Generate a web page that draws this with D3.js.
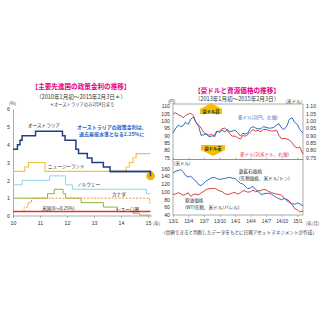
<!DOCTYPE html>
<html>
<head>
<meta charset="utf-8">
<script src="https://cdn.jsdelivr.net/npm/d3@7"></script>
<style>
  body { margin: 0; background: #fff; }
  svg { display: block; font-family: "Noto Sans CJK JP", "Noto Sans", sans-serif; }
</style>
</head>
<body>
<div id="chart"></div>
<script>
// left panel: policy rates (step changes)
const ausDates = ['2010-01-01','2010-03-02','2010-04-06','2010-05-04','2010-11-02','2011-11-01','2011-12-06','2012-05-01','2012-06-05','2012-10-02','2012-12-04','2013-05-07','2013-08-06','2015-02-03'];
const ausRates = [3.75, 4, 4.25, 4.5, 4.75, 4.5, 4.25, 3.75, 3.5, 3.25, 3, 2.75, 2.5, 2.25];
const nzDates = ['2010-01-01','2010-06-10','2010-07-29','2011-03-10','2014-03-13','2014-04-24','2014-06-12','2014-07-24'];
const nzRates = [2.5, 2.75, 3, 2.5, 2.75, 3, 3.25, 3.5];
const norDates = ['2010-01-01','2010-05-05','2011-05-12','2011-12-14','2012-03-14','2014-12-11'];
const norRates = [1.75, 2, 2.25, 1.75, 1.5, 1.25];
const canDates = ['2010-01-01','2010-06-01','2010-07-20','2010-09-08','2015-01-21'];
const canRates = [0.25, 0.5, 0.75, 1, 0.75];
const euDates = ['2010-01-01','2011-04-13','2011-07-13','2011-11-09','2011-12-14','2012-07-11','2013-05-08','2013-11-13','2014-06-11','2014-09-10'];
const euRates = [1, 1.25, 1.5, 1.25, 1, 0.75, 0.5, 0.25, 0.15, 0.05];
const usDates = ['2010-01-01'];
const usRates = [0.25];
const leftEnd = '2015-02-04';
const yearTicks = ['2010-01-01','2011-01-01','2012-01-01','2013-01-01','2014-01-01','2015-01-01'];
const yearLabels = ['10','11','12','13','14','15'];

// right panel: semi-monthly readings
const rDates = ['2013-01-01','2013-01-15','2013-02-01','2013-02-15','2013-03-01','2013-03-15','2013-04-01','2013-04-15','2013-05-01','2013-05-15','2013-06-01','2013-06-15','2013-07-01','2013-07-15','2013-08-01','2013-08-15','2013-09-01','2013-09-15','2013-10-01','2013-10-15','2013-11-01','2013-11-15','2013-12-01','2013-12-15',
  '2014-01-01','2014-01-15','2014-02-01','2014-02-15','2014-03-01','2014-03-15','2014-04-01','2014-04-15','2014-05-01','2014-05-15','2014-06-01','2014-06-15','2014-07-01','2014-07-15','2014-08-01','2014-08-15','2014-09-01','2014-09-15','2014-10-01','2014-10-15','2014-11-01','2014-11-15','2014-12-01','2014-12-15',
  '2015-01-01','2015-01-15','2015-02-03'];
const audJpy = [91.5,94.5,97,96,96.5,99,97.5,101,102.5,99,96,90,90.5,91,89,89.5,90,93,92,93.5,92.5,94,92.5,93,
  93.5,92,89.5,91.5,91,91.5,95,96,95,94.5,94.5,96,95.5,95,95,95.5,97,98,95,94,96.5,101,102,99,
  97.5,94,91.5];
const audUsd = [1.045,1.055,1.04,1.035,1.02,1.035,1.045,1.05,1.035,0.99,0.97,0.95,0.92,0.91,0.9,0.91,0.89,0.925,0.93,0.945,0.95,0.935,0.91,0.895,
  0.895,0.885,0.875,0.9,0.895,0.905,0.925,0.94,0.93,0.935,0.925,0.94,0.94,0.935,0.93,0.93,0.935,0.9,0.875,0.88,0.875,0.87,0.85,0.825,
  0.815,0.82,0.775];
const ironOre = [148,153,155,157,152,142,138,140,133,128,118,116,122,128,132,136,137,134,132,133,134,136,137,135,
  134,128,122,120,114,108,110,114,106,101,93,94,96,96,94,90,85,82,79,83,77,72,69,68,
  71,69,64];
const wti = [93,94,97.5,95,91,93,97,88,93,94,92,97,101,106,108,108,109,106,102,101,95,93,94,97,
  98,94,97,102,102,99,100,104,100,102,103,106,105,101,98,96,94,93,91,83,80,76,67,57,
  53,48,50];
const qTicks = ['2013-01-01','2013-04-01','2013-07-01','2013-10-01','2014-01-01','2014-04-01','2014-07-01','2014-10-01','2015-01-01'];
const qLabels = ['13/1','13/4','13/7','13/10','14/1','14/4','14/7','14/10','15/1'];
const yenTicks = [75, 80, 85, 90, 95, 100, 105, 110];
const usdTicks = [0.75, 0.8, 0.85, 0.9, 0.95, 1.0, 1.05, 1.1];
const priceTicks = [40, 60, 80, 100, 120, 140, 160];

const parse = d3.timeParse('%Y-%m-%d');
const W = 320, H = 320;
const svg = d3.select('#chart').append('svg').attr('width', W).attr('height', H);

const magenta = '#e4007f';
const axisColor = '#888';
const fs = 5.2;

function styleAxis(g) {
  g.select('.domain').attr('stroke', axisColor).attr('stroke-width', 0.7);
  g.selectAll('.tick line').attr('stroke', axisColor).attr('stroke-width', 0.6);
  g.selectAll('.tick text').attr('fill', '#333').style('font-size', fs + 'px');
}

// ---------- left panel ----------
svg.append('text').attr('x', 81).attr('y', 89).attr('text-anchor', 'middle')
  .attr('fill', magenta).style('font-size', '6.6px').style('font-weight', 'bold')
  .text('【主要先進国の政策金利の推移】');
svg.append('text').attr('x', 81).attr('y', 98.5).attr('text-anchor', 'middle')
  .attr('fill', '#333').style('font-size', '5.6px')
  .text('（2010年1月初～2015年2月3日＊）');
svg.append('text').attr('x', 82).attr('y', 106).attr('text-anchor', 'middle')
  .attr('fill', '#333').style('font-size', '4.3px')
  .text('＊オーストラリアのみ2月4日まで');

const xL = d3.scaleTime().domain([parse('2010-01-01'), parse('2015-01-01')]).range([13, 148]);
const yL = d3.scaleLinear().domain([0, 6]).range([216, 109]);

svg.append('g').attr('transform', 'translate(13,0)')
  .call(d3.axisLeft(yL).ticks(6).tickSize(0).tickPadding(3))
  .call(styleAxis);
svg.append('g').attr('transform', 'translate(0,216)')
  .call(d3.axisBottom(xL).tickValues(yearTicks.map(parse)).tickFormat((d, i) => yearLabels[i]).tickSize(2).tickPadding(3))
  .call(g => g.select('.domain').attr('d', `M13,0H152`))
  .call(styleAxis);
svg.append('text').attr('x', 9).attr('y', 105).attr('fill', '#333').style('font-size', '4.5px').text('(%)');
svg.append('text').attr('x', 153).attr('y', 225).attr('fill', '#333').style('font-size', '4.3px').text('(年)');

const stepLine = d3.line().x(d => xL(d[0])).y(d => yL(d[1])).curve(d3.curveStepAfter);
function stepData(dates, rates, end) {
  const pts = dates.map((d, i) => [parse(d), rates[i]]);
  pts.push([parse(end), rates[rates.length - 1]]);
  return pts;
}

const leftSeries = [
  { dates: euDates, rates: euRates, color: '#8db53c', w: 1 },
  { dates: canDates, rates: canRates, color: '#f0903a', w: 1, dash: '2,1.5' },
  { dates: norDates, rates: norRates, color: '#8fd3e6', w: 1 },
  { dates: nzDates, rates: nzRates, color: '#f0c43c', w: 1.1 },
  { dates: usDates, rates: usRates, color: '#e8302e', w: 1.6 },
  { dates: ausDates, rates: ausRates, color: '#223f83', w: 1.5 },
];
leftSeries.forEach(s => {
  svg.append('path').datum(stepData(s.dates, s.rates, leftEnd))
    .attr('d', stepLine).attr('fill', 'none')
    .attr('stroke', s.color).attr('stroke-width', s.w)
    .attr('stroke-dasharray', s.dash || null);
});

svg.append('circle').attr('cx', xL(parse(leftEnd))).attr('cy', yL(2.25)).attr('r', 4.3)
  .attr('fill', '#f5b400');
svg.append('path').datum(stepData(['2013-08-06', '2015-02-03'], [2.5, 2.25], leftEnd))
  .attr('d', stepLine).attr('fill', 'none').attr('stroke', '#223f83').attr('stroke-width', 1.5);

const leftLabels = [
  { t: 'オーストラリア', x: 28, y: 127, c: '#222' },
  { t: 'ニュージーランド', x: 48, y: 168, c: '#222' },
  { t: 'ノルウェー', x: 77, y: 186, c: '#222' },
  { t: 'カナダ', x: 112, y: 196, c: '#222' },
  { t: '米国(0～0.25%)', x: 42, y: 209.5, c: '#222' },
  { t: '←ユーロ圏', x: 116, y: 211, c: '#222' },
];
leftLabels.forEach(l => {
  svg.append('text').attr('x', l.x).attr('y', l.y).attr('fill', l.c)
    .style('font-size', '4.6px').text(l.t);
});
svg.append('text').attr('x', 77).attr('y', 129).attr('fill', '#1f62c4')
  .style('font-size', '5px').style('font-weight', 'bold').text('オーストラリアの政策金利は、');
svg.append('text').attr('x', 79).attr('y', 135.5).attr('fill', '#1f62c4')
  .style('font-size', '5px').style('font-weight', 'bold').text('過去最低水準となる2.25%に');

// ---------- right panel ----------
svg.append('text').attr('x', 237).attr('y', 93).attr('text-anchor', 'middle')
  .attr('fill', magenta).style('font-size', '6.6px').style('font-weight', 'bold')
  .text('【豪ドルと資源価格の推移】');
svg.append('text').attr('x', 237).attr('y', 100.5).attr('text-anchor', 'middle')
  .attr('fill', '#333').style('font-size', '5.6px')
  .text('（2013年1月初～2015年2月3日）');

const x0 = 173, x1 = 303;
const xR = d3.scaleTime().domain([parse('2013-01-01'), parse('2015-02-03')]).range([x0, x1]);
const yYen = d3.scaleLinear().domain([75, 110]).range([157.5, 106]);
const yUsd = d3.scaleLinear().domain([0.75, 1.1]).range([157.5, 106]);
const yPx = d3.scaleLinear().domain([40, 160]).range([215, 168.5]);
const dates = rDates.map(parse);

// frames
svg.append('rect').attr('x', x0).attr('y', 104).attr('width', x1 - x0).attr('height', 55.5)
  .attr('fill', 'none').attr('stroke', axisColor).attr('stroke-width', 0.7);
svg.append('rect').attr('x', x0).attr('y', 159.5).attr('width', x1 - x0).attr('height', 55.5)
  .attr('fill', 'none').attr('stroke', axisColor).attr('stroke-width', 0.7);

svg.append('g').attr('transform', `translate(${x0},0)`)
  .call(d3.axisLeft(yYen).tickValues(yenTicks).tickSize(0).tickPadding(3))
  .call(g => g.select('.domain').remove())
  .call(styleAxis);
svg.append('g').attr('transform', `translate(${x1},0)`)
  .call(d3.axisRight(yUsd).tickValues(usdTicks).tickFormat(d3.format('.2f')).tickSize(0).tickPadding(3))
  .call(g => g.select('.domain').remove())
  .call(styleAxis);
svg.append('g').attr('transform', `translate(${x0},0)`)
  .call(d3.axisLeft(yPx).tickValues(priceTicks).tickSize(0).tickPadding(3))
  .call(g => g.select('.domain').remove())
  .call(styleAxis);
svg.append('g').attr('transform', 'translate(0,215)')
  .call(d3.axisBottom(xR).tickValues(qTicks.map(parse)).tickFormat((d, i) => qLabels[i]).tickSize(2).tickPadding(3))
  .call(g => g.select('.domain').remove())
  .call(styleAxis)
  .call(g => g.selectAll('.tick text').style('font-size', '4.8px'));
svg.append('g').attr('transform', 'translate(0,157.5)')
  .call(d3.axisBottom(xR).tickValues(qTicks.map(parse)).tickFormat('').tickSize(2))
  .call(g => g.select('.domain').remove())
  .call(styleAxis);

svg.append('text').attr('x', 168).attr('y', 103).attr('fill', '#333').style('font-size', '4.5px').text('(円)');
svg.append('text').attr('x', 302).attr('y', 103).attr('text-anchor', 'end').attr('fill', '#333').style('font-size', '4.5px').text('(米ドル)');
svg.append('text').attr('x', 174).attr('y', 165).attr('fill', '#333').style('font-size', '4.5px').text('(米ドル)');
svg.append('text').attr('x', 306).attr('y', 224.5).attr('fill', '#333').style('font-size', '4.3px').text('(年/月)');

function seriesLine(vals, y) {
  return d3.line().x((d, i) => xR(dates[i])).y(d => y(d))(vals);
}
svg.append('path').attr('d', seriesLine(audUsd, yUsd)).attr('fill', 'none').attr('stroke', '#d9403c').attr('stroke-width', 1);
svg.append('path').attr('d', seriesLine(audJpy, yYen)).attr('fill', 'none').attr('stroke', '#2f6fc2').attr('stroke-width', 1);
svg.append('path').attr('d', seriesLine(wti, yPx)).attr('fill', 'none').attr('stroke', '#d9403c').attr('stroke-width', 1);
svg.append('path').attr('d', seriesLine(ironOre, yPx)).attr('fill', 'none').attr('stroke', '#2f6fc2').attr('stroke-width', 1);

// yellow arrow tags
const tagUp = svg.append('g').attr('transform', 'translate(211,110)');
tagUp.append('path').attr('d', 'M-11,4 L11,4 L11,-1 L0,-7 L-11,-1 Z').attr('fill', '#f6c000');
tagUp.append('text').attr('y', 2.5).attr('text-anchor', 'middle').attr('fill', '#222')
  .style('font-size', '4.3px').style('font-weight', 'bold').text('豪ドル高');
const tagDn = svg.append('g').attr('transform', 'translate(213,149)');
tagDn.append('path').attr('d', 'M-12,-4 L12,-4 L12,1 L0,7 L-12,1 Z').attr('fill', '#f6c000');
tagDn.append('text').attr('y', 1).attr('text-anchor', 'middle').attr('fill', '#222')
  .style('font-size', '4.3px').style('font-weight', 'bold').text('豪ドル安');

svg.append('text').attr('x', 238).attr('y', 118.5).attr('fill', '#2f6fc2').style('font-size', '4.6px').text('豪ドル(対円、左軸)');
svg.append('text').attr('x', 240).attr('y', 156).attr('fill', '#d9403c').style('font-size', '4.6px').text('豪ドル(対米ドル、右軸)');
svg.append('text').attr('x', 239).attr('y', 173).attr('fill', '#222').style('font-size', '4.6px').text('鉄鉱石価格');
svg.append('text').attr('x', 239).attr('y', 179.5).attr('fill', '#222').style('font-size', '4.6px').text('(先物価格、米ドル/トン)');
svg.append('text').attr('x', 185).attr('y', 202).attr('fill', '#222').style('font-size', '4.6px').text('原油価格');
svg.append('text').attr('x', 185).attr('y', 208.5).attr('fill', '#222').style('font-size', '4.6px').text('(WTI先物、米ドル/バレル)');

svg.append('text').attr('x', 317).attr('y', 234).attr('text-anchor', 'end').attr('fill', '#333')
  .style('font-size', '4.6px').text('（信頼できると判断したデータをもとに日興アセットマネジメントが作成）');
</script>
</body>
</html>
